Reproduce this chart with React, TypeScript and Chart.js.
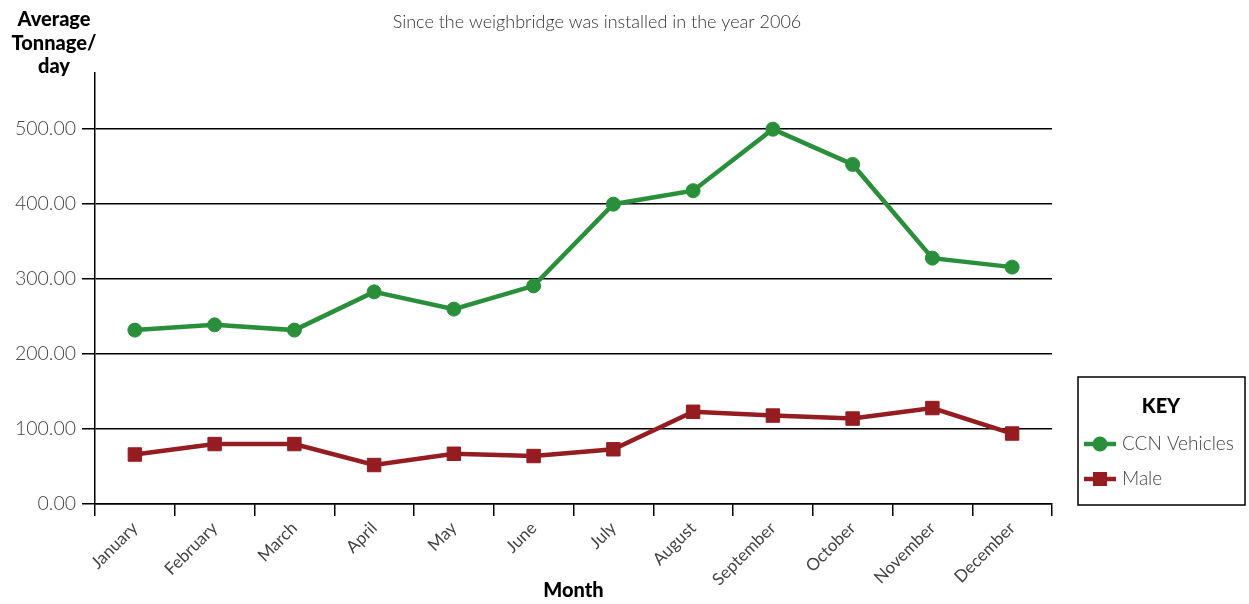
import React, { useEffect, useRef } from "react";
import { Chart, registerables } from "chart.js";

Chart.register(...registerables);

const months = ["January", "February", "March", "April", "May", "June", "July", "August", "September", "October", "November", "December"];
const ccnVehicles = [232, 239, 232, 283, 260, 291, 400, 418, 500, 453, 328, 316];
const male = [66, 80, 80, 52, 67, 64, 73, 123, 118, 114, 128, 94];
const yTickValues = [0, 100, 200, 300, 400, 500];
const chartTitle = "Since the weighbridge was installed in the year 2006";
const yTitleLines = ["Average", "Tonnage/", "day"];
const xTitle = "Month";
const legendTitle = "KEY";

const FONT = "Lato";
const GREEN = "#2a8f3b";
const RED = "#951c20";

const overlayPlugin = {
  id: "overlay",
  afterDraw(chart: any) {
    const ctx = chart.ctx;
    ctx.save();
    // title
    ctx.fillStyle = "#333";
    ctx.font = `300 18px ${FONT}`;
    ctx.textAlign = "center";
    ctx.textBaseline = "middle";
    ctx.fillText(chartTitle, 597, 22);
    // y title
    ctx.fillStyle = "#000";
    ctx.font = `900 20px ${FONT}`;
    yTitleLines.forEach((l, i) => ctx.fillText(l, 54, 20 + i * 23.5));
    // legend box
    const bx = 1078, by = 377, bw = 167, bh = 128;
    ctx.strokeStyle = "#000";
    ctx.lineWidth = 1.5;
    ctx.strokeRect(bx, by, bw, bh);
    ctx.font = `900 20px ${FONT}`;
    ctx.fillText(legendTitle, 1161, 407);
    chart.data.datasets.forEach((ds: any, i: number) => {
      const y = 444 + i * 35;
      ctx.strokeStyle = ds.borderColor;
      ctx.lineWidth = 4.5;
      ctx.beginPath();
      ctx.moveTo(1084, y);
      ctx.lineTo(1116, y);
      ctx.stroke();
      ctx.fillStyle = ds.borderColor;
      if (ds.pointStyle === "rect") {
        ctx.fillRect(1100 - 7, y - 7, 14, 14);
      } else {
        ctx.beginPath();
        ctx.arc(1100, y, 7.5, 0, Math.PI * 2);
        ctx.fill();
      }
      ctx.fillStyle = "#444";
      ctx.font = `300 19px ${FONT}`;
      ctx.textAlign = "left";
      ctx.fillText(ds.label, 1122, y);
      ctx.textAlign = "center";
    });
    ctx.restore();
  },
};

export default function App() {
  const ref = useRef<HTMLCanvasElement>(null);
  useEffect(() => {
    const chart = new Chart(ref.current!, {
      type: "line",
      data: {
        labels: months,
        datasets: [
          {
            label: "CCN Vehicles",
            data: ccnVehicles,
            borderColor: GREEN,
            backgroundColor: GREEN,
            borderWidth: 4.5,
            pointStyle: "circle",
            pointRadius: 7,
            pointBorderWidth: 1,
            tension: 0,
          },
          {
            label: "Male",
            data: male,
            borderColor: RED,
            backgroundColor: RED,
            borderWidth: 4.5,
            pointStyle: "rect",
            pointRadius: 9.5,
            pointBorderWidth: 1,
            tension: 0,
          },
        ],
      },
      options: {
        responsive: false,
        animation: false,
        layout: { padding: { top: 73, right: 197, left: 0, bottom: 0 } },
        plugins: {
          legend: { display: false },
          title: { display: false },
          tooltip: { enabled: false },
        },
        scales: {
          x: {
            offset: true,
            grid: { display: true, drawOnChartArea: false, drawTicks: true, tickLength: 12, color: "#000", lineWidth: 1.5, offset: true },
            border: { display: true, color: "#000", width: 1.5 },
            ticks: { maxRotation: 45, minRotation: 45, color: "#444", font: { family: FONT, size: 17, weight: "400" }, padding: 2, autoSkip: false },
            title: { display: true, text: xTitle, color: "#000", font: { family: FONT, size: 20, weight: "900" }, padding: { top: 0, bottom: 1 } },
            afterFit: (s: any) => { s.height = 100; },
          },
          y: {
            min: 0,
            max: 575,
            afterBuildTicks: (s: any) => { s.ticks = yTickValues.map((v) => ({ value: v })); },
            grid: { color: "#000", lineWidth: 1.5, tickLength: 13, drawTicks: true },
            border: { display: true, color: "#000", width: 1.5 },
            ticks: { color: "#444", font: { family: FONT, size: 19.5, weight: "300" }, padding: 6, callback: (v: any) => Number(v).toFixed(2) },
            afterFit: (s: any) => { s.width = 95; },
          },
        },
      },
      plugins: [overlayPlugin],
    });
    return () => chart.destroy();
  }, []);
  return (
    <div style={{ position: "fixed", left: 0, top: 0, width: 1249, height: 604, background: "#fff" }}>
      <canvas ref={ref} width={1249} height={604} style={{ display: "block" }} />
    </div>
  );
}
